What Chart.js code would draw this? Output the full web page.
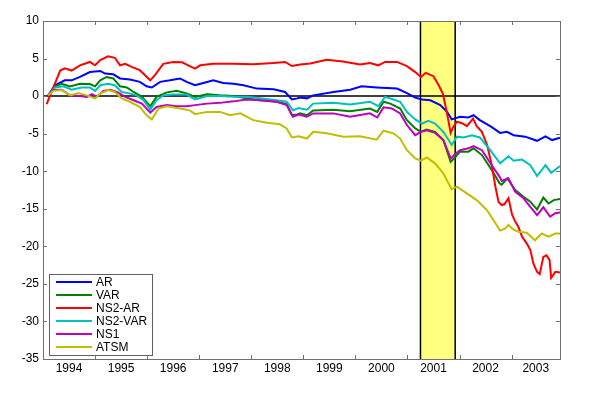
<!DOCTYPE html>
<html><head><meta charset="utf-8">
<script src="https://cdn.jsdelivr.net/npm/chart.js@4"></script>
<style>html,body{margin:0;padding:0;background:#fff}canvas{display:block}</style>
</head><body>
<canvas id="c" width="600" height="393"></canvas>
<script>
const seriesNames = ['AR','VAR','NS2-AR','NS2-VAR','NS1','ATSM'];
const seriesColors = ['#0000ff','#008000','#ff0000','#00bfbf','#bf00bf','#bfbf00'];

const arX = [1994.10,1994.23,1994.42,1994.55,1994.71,1994.90,1995.10,1995.19,1995.35,1995.48,1995.67,1995.86,1995.99,1996.09,1996.25,1996.44,1996.63,1996.76,1996.92,1997.08,1997.27,1997.46,1997.66,1997.85,1998.11,1998.43,1998.65,1998.78,1998.88,1998.94,1999.07,1999.19,1999.58,1999.90,2000.12,2000.41,2000.80,2000.99,2001.15,2001.28,2001.44,2001.63,2001.76,2001.85,2002.01,2002.17,2002.27,2002.39,2002.59,2002.78,2002.91,2003.04,2003.26,2003.49,2003.65,2003.78,2003.93];
const arY = [0.1,1.45,2.1,2.1,2.55,3.2,3.35,3.0,2.9,2.35,2.2,1.9,1.3,1.15,1.9,2.1,2.35,1.9,1.45,1.75,2.1,1.75,1.65,1.45,1.0,0.9,0.55,-0.45,-0.3,-0.2,-0.3,0.1,0.55,0.85,1.3,1.15,1.0,0.4,-0.2,-0.45,-0.55,-1.2,-2.1,-3.1,-2.75,-2.85,-2.55,-3.2,-4.0,-4.9,-4.75,-5.2,-5.4,-5.95,-5.35,-5.85,-5.55];

const varX = [1994.10,1994.23,1994.36,1994.52,1994.71,1994.90,1995.00,1995.10,1995.22,1995.35,1995.48,1995.61,1995.74,1995.90,1996.06,1996.18,1996.38,1996.57,1996.76,1996.92,1997.15,1997.40,1997.66,1997.91,1998.17,1998.49,1998.68,1998.78,1998.88,1998.94,1999.07,1999.19,1999.58,1999.90,2000.28,2000.42,2000.54,2000.67,2000.86,2000.99,2001.15,2001.26,2001.37,2001.53,2001.69,2001.83,2001.92,2002.01,2002.17,2002.27,2002.43,2002.62,2002.77,2002.81,2002.92,2003.07,2003.23,2003.36,2003.49,2003.61,2003.71,2003.81,2003.93];
const varY = [0,1.3,1.65,1.3,1.65,1.6,1.3,2.1,2.55,2.35,1.3,1.15,0.55,-0.1,-1.35,-0.1,0.5,0.7,0.35,-0.1,0.25,0.1,0,-0.3,-0.55,-0.75,-1.05,-2.55,-2.45,-2.3,-2.55,-1.9,-1.8,-2.0,-1.65,-2.1,-0.75,-1.0,-1.65,-3.2,-4.3,-4.75,-4.45,-4.75,-5.85,-8.75,-8.1,-7.4,-7.4,-6.95,-7.85,-9.85,-11.6,-11.8,-10.95,-12.5,-13.4,-14.05,-15.1,-13.5,-14.3,-13.85,-13.7];

const ns2arX = [1994.07,1994.33,1994.42,1994.55,1994.71,1994.90,1995.00,1995.10,1995.25,1995.38,1995.48,1995.58,1995.70,1995.86,1996.06,1996.15,1996.31,1996.50,1996.67,1996.79,1996.92,1997.02,1997.27,1997.65,1998.04,1998.42,1998.65,1998.78,1998.94,1999.13,1999.45,1999.76,2000.09,2000.28,2000.44,2000.57,2000.80,2000.99,2001.15,2001.26,2001.35,2001.50,2001.60,2001.68,2001.76,2001.83,2001.88,2001.95,2002.06,2002.14,2002.26,2002.33,2002.43,2002.53,2002.62,2002.69,2002.75,2002.81,2002.86,2002.94,2003.01,2003.07,2003.13,2003.20,2003.29,2003.36,2003.42,2003.49,2003.54,2003.61,2003.67,2003.73,2003.76,2003.84,2003.93];
const ns2arY = [-1.08,3.4,3.7,3.4,4.1,4.55,4.1,4.8,5.3,5.1,4.1,4.3,3.9,3.45,2.1,2.8,4.3,4.55,4.5,4.1,3.65,4.1,4.3,4.3,4.25,4.4,4.55,4.0,4.2,4.35,4.85,4.6,4.2,4.4,4.1,4.55,4.55,4.0,3.2,2.55,3.1,2.65,1.45,0.35,-2.3,-4.9,-4.1,-3.4,-3.65,-4.0,-3.0,-4.0,-4.75,-6.5,-9.2,-12.1,-14.1,-14.5,-14.4,-13.6,-15.8,-16.7,-17.4,-18.7,-19.6,-20.5,-22.3,-23.4,-23.7,-21.4,-21.2,-21.8,-24.2,-23.4,-23.5];

const ns2varX = [1994.10,1994.23,1994.39,1994.55,1994.74,1994.90,1995.00,1995.10,1995.25,1995.38,1995.51,1995.64,1995.80,1995.93,1996.06,1996.18,1996.31,1996.50,1996.76,1996.92,1997.15,1997.40,1997.66,1997.91,1998.17,1998.49,1998.68,1998.80,1998.91,1999.07,1999.19,1999.58,1999.90,2000.28,2000.44,2000.57,2000.73,2000.86,2000.99,2001.15,2001.28,2001.40,2001.53,2001.69,2001.85,2001.95,2002.08,2002.24,2002.39,2002.59,2002.78,2002.94,2003.04,2003.20,2003.36,2003.49,2003.65,2003.76,2003.93];
const ns2varY = [0.1,1.15,1.3,0.85,1.15,1.15,0.7,1.45,1.65,1.45,0.55,0.4,0.1,-0.55,-1.8,-0.55,0.1,0.2,0.2,-0.45,0,0,-0.1,-0.1,-0.3,-0.55,-0.75,-1.9,-1.6,-1.8,-1.0,-0.9,-1.1,-0.75,-1.35,-0.1,-0.45,-0.75,-2.1,-3.1,-3.65,-3.3,-3.65,-4.75,-6.5,-5.4,-5.5,-5.2,-5.5,-7.2,-8.95,-8.0,-8.6,-8.45,-9.2,-10.65,-9.2,-10.2,-9.3];

const ns1X = [1994.10,1994.20,1994.36,1994.52,1994.71,1994.84,1994.94,1995.03,1995.16,1995.29,1995.42,1995.58,1995.74,1995.90,1996.06,1996.18,1996.38,1996.57,1996.76,1996.92,1997.15,1997.40,1997.66,1997.91,1998.17,1998.49,1998.68,1998.80,1998.91,1999.07,1999.19,1999.58,1999.90,2000.28,2000.42,2000.54,2000.70,2000.86,2000.99,2001.15,2001.26,2001.37,2001.53,2001.69,2001.83,2001.92,2002.01,2002.17,2002.27,2002.43,2002.62,2002.77,2002.81,2002.94,2003.07,2003.23,2003.36,2003.49,2003.61,2003.74,2003.84,2003.93];
const ns1Y = [0.1,0.8,0.85,0.1,0,-0.1,0.25,-0.1,0.7,0.85,0.55,-0.1,-0.55,-1.0,-2.2,-1.45,-1.2,-1.35,-1.35,-1.2,-1.0,-0.9,-0.7,-0.45,-0.55,-0.75,-1.2,-2.75,-2.45,-2.75,-2.3,-2.3,-2.75,-2.3,-2.85,-1.5,-1.65,-2.3,-3.85,-5.2,-4.75,-4.55,-4.9,-5.85,-8.3,-7.7,-7.2,-6.95,-6.65,-7.2,-9.2,-10.75,-11.3,-10.95,-12.75,-13.6,-14.75,-15.85,-14.8,-16.05,-15.6,-15.5];

const atsmX = [1994.10,1994.20,1994.36,1994.52,1994.68,1994.84,1995.00,1995.10,1995.25,1995.38,1995.51,1995.67,1995.86,1995.99,1996.09,1996.22,1996.38,1996.63,1996.82,1996.92,1997.15,1997.40,1997.59,1997.79,1998.04,1998.30,1998.55,1998.68,1998.78,1998.91,1999.07,1999.19,1999.45,1999.77,2000.09,2000.41,2000.54,2000.73,2000.86,2000.99,2001.15,2001.26,2001.37,2001.53,2001.69,2001.85,2001.95,2002.14,2002.33,2002.53,2002.65,2002.78,2002.88,2002.94,2003.03,2003.13,2003.29,2003.45,2003.58,2003.71,2003.84,2003.93];
const atsmY = [0.1,0.7,0.8,0.1,0.4,0.1,-0.3,0.35,0.8,0.55,-0.3,-0.75,-1.45,-2.55,-3.1,-1.65,-1.35,-1.65,-1.9,-2.4,-2.1,-2.1,-2.55,-2.3,-3.2,-3.55,-3.75,-4.3,-5.5,-5.35,-5.65,-4.75,-4.95,-5.4,-5.35,-5.8,-4.6,-4.95,-5.65,-7.2,-8.3,-8.6,-8.15,-8.95,-10.3,-12.4,-12.05,-12.95,-13.85,-15.2,-16.5,-17.9,-17.6,-17.15,-17.75,-18.05,-18.2,-19.2,-18.3,-18.7,-18.3,-18.3];

const yearLabels = ['1994','1995','1996','1997','1998','1999','2000','2001','2002','2003'];
const xRange = [1994, 2003.93];
const yRange = [-35, 10];
const yStep = 5;
const recession = [2001.25, 2001.917];

const xs = [arX, varX, ns2arX, ns2varX, ns1X, atsmX];
const ys = [arY, varY, ns2arY, ns2varY, ns1Y, atsmY];

const FONT = 'Liberation Sans, Arial, sans-serif';
const labelPos = yearLabels.map(l => {
  const a = Math.max(+l, xRange[0]), b = Math.min(+l + 1, xRange[1]);
  return (a + b) / 2;
});

const datasets = seriesNames.map((name, i) => ({
  label: name,
  data: xs[i].map((x, k) => ({x, y: ys[i][k]})),
  borderColor: seriesColors[i],
  backgroundColor: seriesColors[i],
  borderWidth: 2,
  pointRadius: 0,
  tension: 0,
  fill: false,
  order: seriesNames.length - 1 - i
}));

const decor = {
  id: 'decor',
  beforeDatasetsDraw(chart) {
    const {ctx, chartArea: a, scales: {x, y}} = chart;
    ctx.save();
    const x0 = x.getPixelForValue(recession[0]), x1 = x.getPixelForValue(recession[1]);
    ctx.fillStyle = '#ffff80';
    ctx.fillRect(x0, a.top, x1 - x0, a.bottom - a.top);
    ctx.strokeStyle = '#000';
    ctx.lineWidth = 1.5;
    ctx.beginPath();
    ctx.moveTo(x0, a.top); ctx.lineTo(x0, a.bottom);
    ctx.moveTo(x1, a.top); ctx.lineTo(x1, a.bottom);
    const y0 = y.getPixelForValue(0);
    ctx.moveTo(a.left, y0); ctx.lineTo(a.right, y0);
    ctx.stroke();
    ctx.restore();
  },
  afterDatasetsDraw(chart) {
    const {ctx, chartArea: a, scales: {x, y}} = chart;
    ctx.save();
    ctx.strokeStyle = '#707070';
    ctx.lineWidth = 1;
    ctx.strokeRect(Math.round(a.left) + 0.5, Math.round(a.top) + 0.5, Math.round(a.right - a.left), Math.round(a.bottom - a.top));
    ctx.beginPath();
    const tl = 4;
    for (let yr = Math.ceil(xRange[0]) + 1; yr <= xRange[1]; yr++) {
      const px = Math.round(x.getPixelForValue(yr)) + 0.5;
      ctx.moveTo(px, a.bottom); ctx.lineTo(px, a.bottom - tl);
      ctx.moveTo(px, a.top); ctx.lineTo(px, a.top + tl);
    }
    y.ticks.forEach(t => {
      const py = Math.round(y.getPixelForValue(t.value)) + 0.5;
      ctx.moveTo(a.left, py); ctx.lineTo(a.left + tl, py);
      ctx.moveTo(a.right, py); ctx.lineTo(a.right - tl, py);
    });
    ctx.stroke();
    // legend
    const lx = a.left + 6, lw = 103, rowH = 13, lh = rowH * seriesNames.length + 3;
    const ly = a.bottom - 4 - lh;
    ctx.fillStyle = '#fff';
    ctx.fillRect(lx, ly, lw, lh);
    ctx.strokeStyle = '#606060';
    ctx.strokeRect(Math.round(lx) + 0.5, Math.round(ly) + 0.5, lw, lh);
    ctx.font = '12px ' + FONT;
    ctx.textBaseline = 'middle';
    ctx.textAlign = 'left';
    seriesNames.forEach((n, i) => {
      const cy = ly + 8 + i * rowH;
      ctx.strokeStyle = seriesColors[i];
      ctx.lineWidth = 2;
      ctx.beginPath(); ctx.moveTo(lx + 7, cy); ctx.lineTo(lx + 43, cy); ctx.stroke();
      ctx.fillStyle = '#000';
      ctx.fillText(n, lx + 47, cy + 0.5);
    });
    ctx.restore();
  }
};

new Chart(document.getElementById('c'), {
  type: 'line',
  data: { datasets },
  options: {
    responsive: false,
    animation: false,
    devicePixelRatio: 1,
    layout: { padding: { left: 0, top: 21, right: 40, bottom: 0 } },
    plugins: { legend: { display: false }, tooltip: { enabled: false } },
    scales: {
      x: {
        type: 'linear',
        min: xRange[0], max: xRange[1],
        grid: { display: false, drawTicks: false },
        border: { display: false },
        afterBuildTicks: s => { s.ticks = labelPos.map(v => ({value: v})); },
        afterFit: s => { s.height = 34; },
        ticks: {
          autoSkip: false, maxRotation: 0, padding: 2,
          color: '#000', font: { family: FONT, size: 12 },
          callback: (v, i) => yearLabels[i]
        }
      },
      y: {
        type: 'linear',
        min: yRange[0], max: yRange[1],
        grid: { display: false, drawTicks: false },
        border: { display: false },
        afterFit: s => { s.width = 43; },
        ticks: { stepSize: yStep, padding: 4, color: '#000', font: { family: FONT, size: 12 } }
      }
    }
  },
  plugins: [decor]
});
</script>
</body></html>
